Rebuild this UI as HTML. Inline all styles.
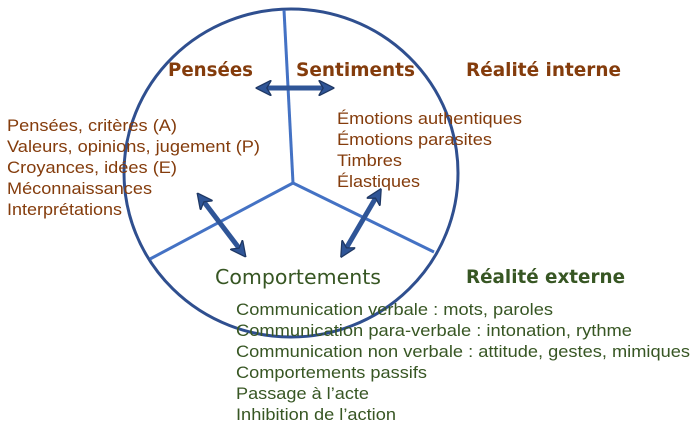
<!DOCTYPE html>
<html><head><meta charset="utf-8"><style>
html,body{margin:0;padding:0;background:#fff;}
svg{display:block;}
.b{font-family:"Liberation Sans",sans-serif;font-size:17px;}
.br{fill:#843c0c;}
.gr{fill:#375623;}
.h{font-family:"DejaVu Sans","Liberation Sans",sans-serif;font-weight:bold;font-size:19px;}
</style></head><body>
<svg width="698" height="433" viewBox="0 0 698 433" xmlns="http://www.w3.org/2000/svg">
<defs>
<marker id="a" viewBox="0 0 10 10" refX="6" refY="5" markerWidth="3.2" markerHeight="3.2" orient="auto-start-reverse">
<path d="M0,0 L10,5 L0,10 L3,5 z" fill="#2f5597" stroke="#1f3864" stroke-width="0.8"/>
</marker>
</defs>
<ellipse cx="291" cy="173" rx="167" ry="164" fill="none" stroke="#2f4f8f" stroke-width="3"/>
<g stroke="#4472c4" stroke-width="3" fill="none">
<line x1="293" y1="183" x2="284" y2="10"/>
<line x1="293" y1="183" x2="150" y2="259"/>
<line x1="293" y1="183" x2="434" y2="252"/>
</g>
<g stroke="#2f5597" stroke-width="5" fill="none" marker-start="url(#a)" marker-end="url(#a)">
<line x1="262" y1="88" x2="328" y2="88"/>
<line x1="201" y1="198" x2="242" y2="252"/>
<line x1="378" y1="194" x2="344" y2="252"/>
</g>
<text class="h br" x="168" y="76" textLength="85" lengthAdjust="spacingAndGlyphs">Pensées</text>
<text class="h br" x="296" y="76" textLength="119" lengthAdjust="spacingAndGlyphs">Sentiments</text>
<text class="h br" x="466" y="76" textLength="155" lengthAdjust="spacingAndGlyphs">Réalité interne</text>
<text class="h gr" x="466" y="283" textLength="159" lengthAdjust="spacingAndGlyphs">Réalité externe</text>
<text x="215" y="284" style="font-family:'DejaVu Sans','Liberation Sans',sans-serif;font-size:20px;" class="gr" textLength="166" lengthAdjust="spacingAndGlyphs">Comportements</text>
<g class="b br">
<text x="7" y="131" textLength="170" lengthAdjust="spacingAndGlyphs">Pensées, critères (A)</text>
<text x="7" y="152" textLength="253" lengthAdjust="spacingAndGlyphs">Valeurs, opinions, jugement (P)</text>
<text x="7" y="173" textLength="170" lengthAdjust="spacingAndGlyphs">Croyances, idées (E)</text>
<text x="7" y="194" textLength="145" lengthAdjust="spacingAndGlyphs">Méconnaissances</text>
<text x="7" y="215" textLength="115" lengthAdjust="spacingAndGlyphs">Interprétations</text>
<text x="337" y="124" textLength="185" lengthAdjust="spacingAndGlyphs">Émotions authentiques</text>
<text x="337" y="145" textLength="155" lengthAdjust="spacingAndGlyphs">Émotions parasites</text>
<text x="337" y="166" textLength="65" lengthAdjust="spacingAndGlyphs">Timbres</text>
<text x="337" y="187" textLength="83" lengthAdjust="spacingAndGlyphs">Élastiques</text>
</g>
<g class="b gr">
<text x="236" y="315" textLength="317" lengthAdjust="spacingAndGlyphs">Communication verbale : mots, paroles</text>
<text x="236" y="336" textLength="396" lengthAdjust="spacingAndGlyphs">Communication para-verbale : intonation, rythme</text>
<text x="236" y="357" textLength="454" lengthAdjust="spacingAndGlyphs">Communication non verbale : attitude, gestes, mimiques</text>
<text x="236" y="378" textLength="191" lengthAdjust="spacingAndGlyphs">Comportements passifs</text>
<text x="236" y="399" textLength="133" lengthAdjust="spacingAndGlyphs">Passage à l’acte</text>
<text x="236" y="420" textLength="160" lengthAdjust="spacingAndGlyphs">Inhibition de l’action</text>
</g>
</svg>
</body></html>
